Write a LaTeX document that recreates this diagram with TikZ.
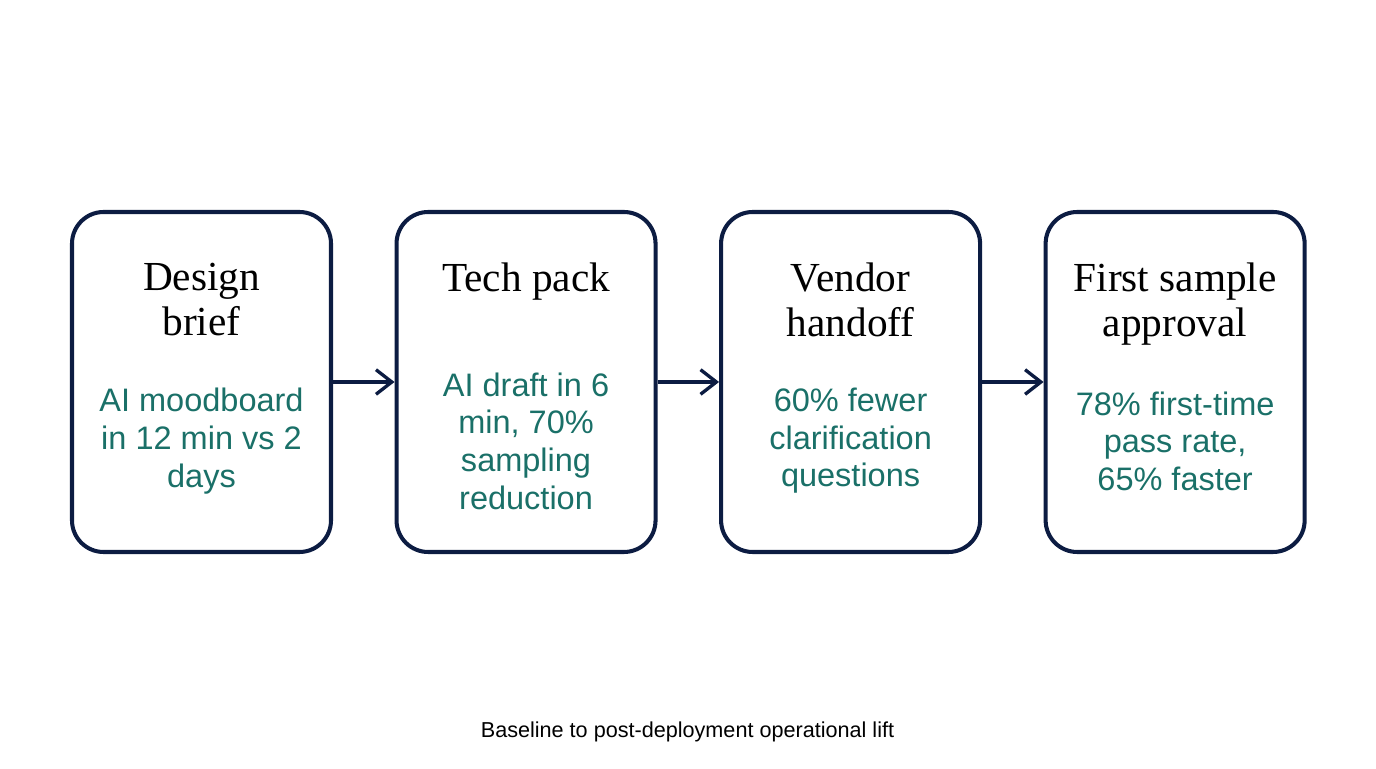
\documentclass[tikz,border=0pt]{standalone}
\usepackage{fontspec}
\setmainfont{Liberation Serif}
\setsansfont{Liberation Sans}
\usepackage{xcolor}
\definecolor{flowNavy}{RGB}{12, 28, 66}
\definecolor{flowTeal}{RGB}{26, 112, 104}
\usetikzlibrary{arrows.meta, positioning}

\begin{document}
\begin{tikzpicture}[
  node distance=1.23cm,
  stage/.style={rectangle, draw=flowNavy, line width=2.3pt, rounded corners=18pt,
                minimum width=5.18cm, minimum height=6.8cm},
  ttl/.style={anchor=north, align=center, inner sep=0pt,
              font=\fontsize{23.5}{25.6}\selectfont},
  gain/.style={align=center, inner sep=0pt, text=flowTeal,
               font=\sffamily\fontsize{18.5}{21.4}\selectfont},
  captxt/.style={font=\sffamily\fontsize{12.3}{14}\selectfont, inner sep=0pt},
  arrow/.style={-{Straight Barb[length=9pt, width=14pt]}, line width=1.9pt, flowNavy},
]
  \useasboundingbox (0,0) rectangle (27.52,15.36);

  % Stage boxes, left to right
  \node[stage] (brief) at (4.03,7.72) {};
  \node[stage, right=of brief] (pack) {};
  \node[stage, right=of pack] (vendor) {};
  \node[stage, right=of vendor] (sample) {};

  % Stage titles
  \node[ttl] (briefT) at ([yshift=-1.06cm]brief.north) {Design\\brief};
  \node[ttl] (packT) at ([yshift=-1.06cm]pack.north) {Tech pack};
  \node[ttl] (vendorT) at ([yshift=-1.06cm]vendor.north) {Vendor\\handoff};
  \node[ttl] (sampleT) at ([yshift=-1.06cm]sample.north) {First sample\\approval};

  % Measured gains
  \node[gain] (briefG) at ([yshift=-1.18cm]brief.center) {AI moodboard\\in 12 min vs 2\\days};
  \node[gain] (packG) at ([yshift=-1.18cm]pack.center) {AI draft in 6\\min, 70\%\\sampling\\reduction};
  \node[gain] (vendorG) at ([yshift=-1.18cm]vendor.center) {60\% fewer\\clarification\\questions};
  \node[gain] (sampleG) at ([yshift=-1.18cm]sample.center) {78\% first-time\\pass rate,\\65\% faster};

  % Flow arrows
  \draw[arrow] (brief) -- (pack);
  \draw[arrow] (pack) -- (vendor);
  \draw[arrow] (vendor) -- (sample);

  % Caption
  \node[captxt] (caption) at (13.75,0.73) {Baseline to post-deployment operational lift};
\end{tikzpicture}
\end{document}
